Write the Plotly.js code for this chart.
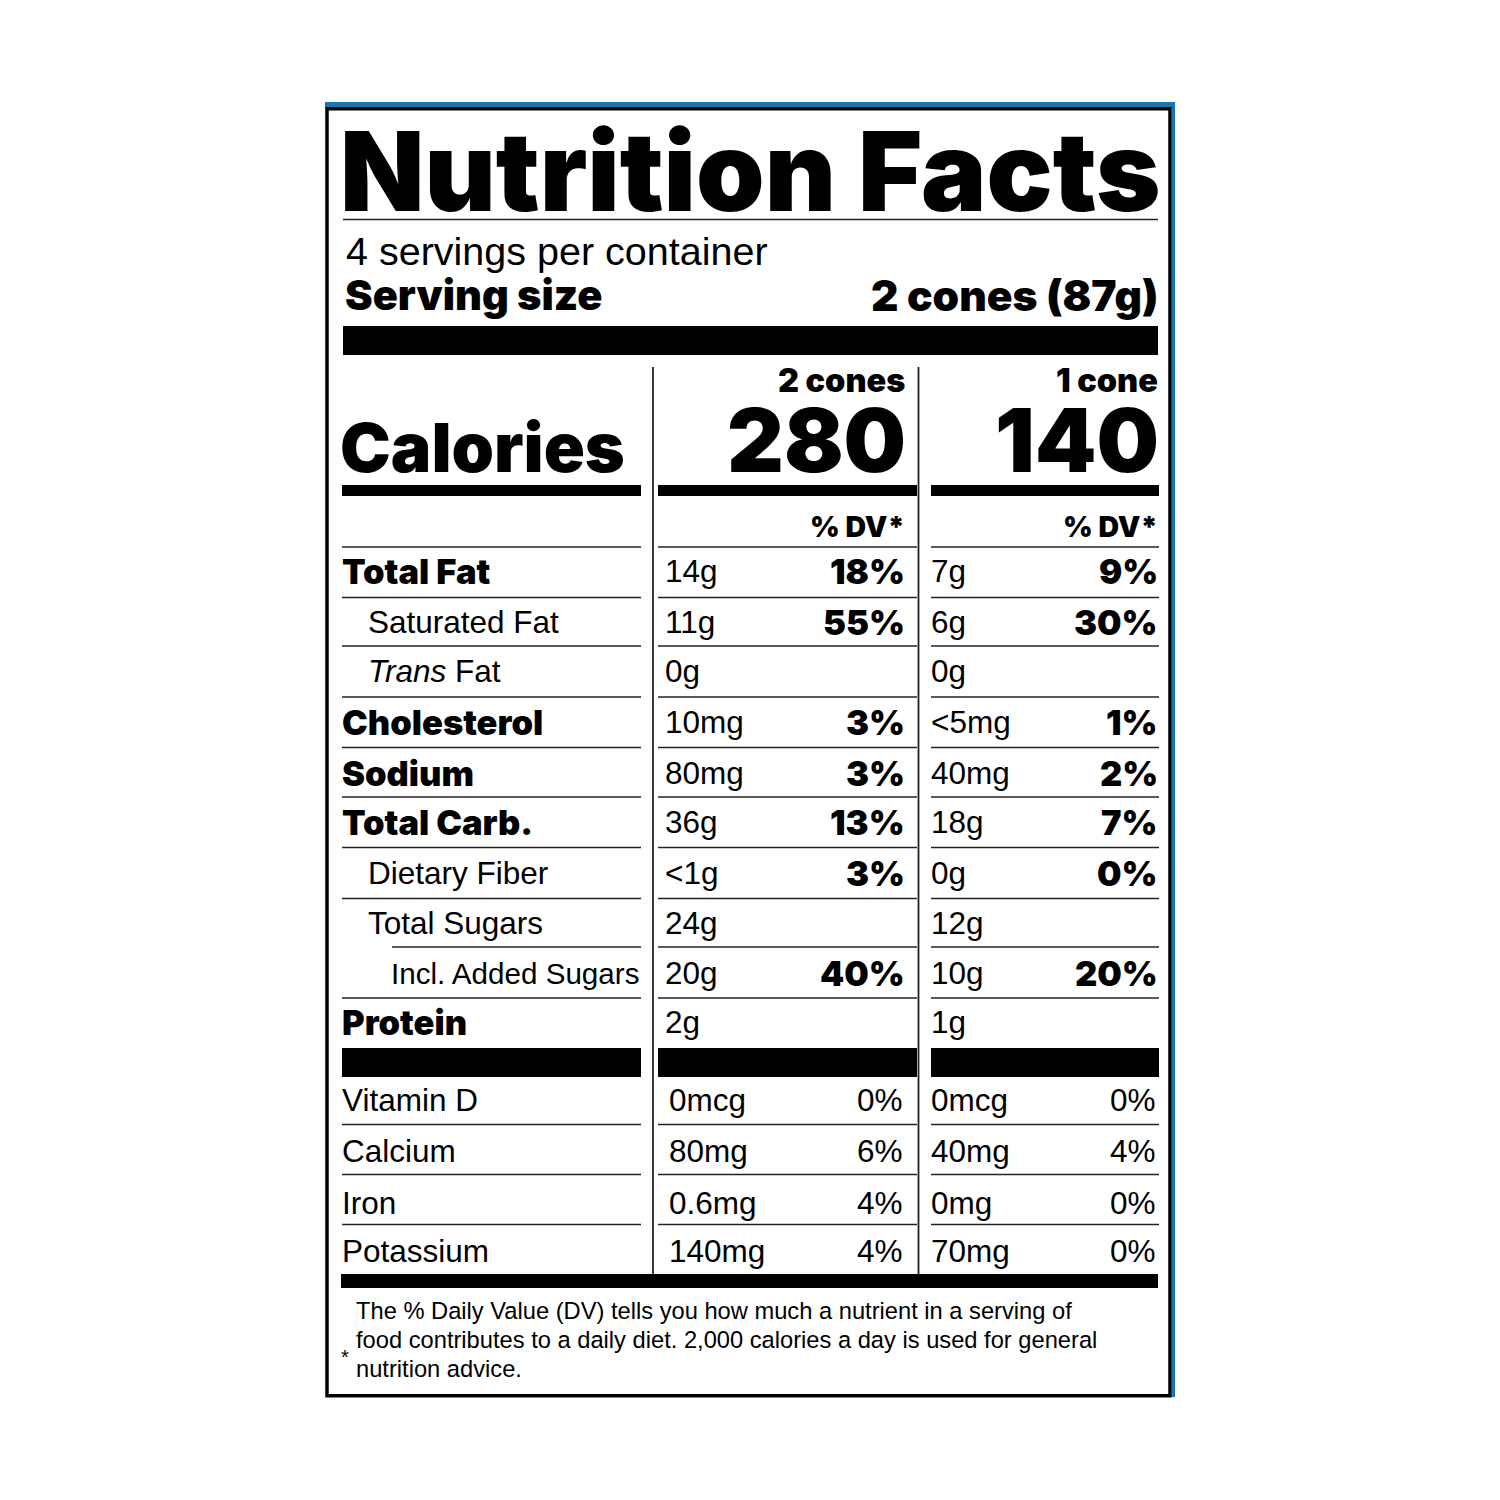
<!DOCTYPE html>
<html>
<head>
<meta charset="utf-8">
<script src="https://cdn.plot.ly/plotly-3.0.1.min.js"></script>
<style>
html,body{margin:0;padding:0;background:#ffffff;}
#chart{width:1500px;height:1500px;}
</style>
</head>
<body>
<div id="chart"></div>
<script>
// ---------------- DATA ----------------
const labelTitle = 'Nutrition Facts';
const servingsPerContainer = '4 servings per container';
const servingSizeLabel = 'Serving size';
const servingSize = '2 cones (87g)';
const columnHeads = ['2 cones', '1 cone'];
const caloriesLabel = 'Calories';
const calories = [280, 140];
const dvHeader = '% DV*';

const nutrients = ['Total Fat', 'Saturated Fat', 'Trans Fat', 'Cholesterol', 'Sodium',
                   'Total Carb.', 'Dietary Fiber', 'Total Sugars', 'Incl. Added Sugars', 'Protein'];
const amounts2 = ['14g', '11g', '0g', '10mg', '80mg', '36g', '<1g', '24g', '20g', '2g'];
const dv2      = ['18%', '55%', '', '3%', '3%', '13%', '3%', '', '40%', ''];
const amounts1 = ['7g', '6g', '0g', '<5mg', '40mg', '18g', '0g', '12g', '10g', '1g'];
const dv1      = ['9%', '30%', '', '1%', '2%', '7%', '0%', '', '20%', ''];

const vitamins    = ['Vitamin D', 'Calcium', 'Iron', 'Potassium'];
const vitAmounts2 = ['0mcg', '80mg', '0.6mg', '140mg'];
const vitDv2      = ['0%', '6%', '4%', '4%'];
const vitAmounts1 = ['0mcg', '40mg', '0mg', '70mg'];
const vitDv1      = ['0%', '4%', '0%', '0%'];

const footnoteMark = '*';
const footnote = [
  'The % Daily Value (DV) tells you how much a nutrient in a serving of',
  'food contributes to a daily diet. 2,000 calories a day is used for general',
  'nutrition advice.'
];

// ---------------- STYLE / GEOMETRY ----------------
const HEAVY = 'Inter, Lato, Roboto, sans-serif';
const REG = '"Liberation Sans", Arial, sans-serif';
const BLUE = '#1676b6';
const INK = '#000000';
const RULE = '#222222';

const boldRows = new Set(['Total Fat', 'Cholesterol', 'Sodium', 'Total Carb.', 'Protein']);
const indentLevel = {'Saturated Fat': 1, 'Trans Fat': 1, 'Dietary Fiber': 1, 'Total Sugars': 1, 'Incl. Added Sugars': 2};
const displayLabel = {'Trans Fat': '<i>Trans</i> Fat'};
const labelSize = {'Incl. Added Sugars': 29.6};

const G = {
  colL: [342, 641], colM: [658, 917], colR: [931, 1159],
  vlines: [653, 918.5], vTop: 367, vBot: 1275,
  indentX: [342, 368, 391],
  amtX: [665, 931], dvX: [905, 1158],
  vitAmtX: [669, 931], vitDvX: [903, 1156],
  nutY: [571, 622, 671, 722, 773, 822, 873, 922.5, 973, 1022],
  nutLines: [547, 597.5, 646, 697, 747.5, 797, 847.5, 898.5, 947, 998],
  subLineStart: {8: 392},
  vitY: [1100, 1151, 1203, 1251],
  vitLines: [1124.5, 1174.5, 1224.5],
  midBar: [1048, 1077],
  calBar: [485, 496],
  topBar: [326, 355],
  bottomBar: [1274, 1288],
  titleRule: 219.5,
  footY: [1311, 1339.5, 1368.5]
};

// ---------------- BUILD ----------------
const shapes = [];
const annotations = [];

function rect(x0, x1, y0, y1, color) {
  shapes.push({type: 'rect', xref: 'x', yref: 'y', x0: x0, x1: x1, y0: y0, y1: y1,
               fillcolor: color, line: {width: 0}, layer: 'above'});
}
function hline(x0, x1, y, w) {
  shapes.push({type: 'line', xref: 'x', yref: 'y', x0: x0, x1: x1, y0: y, y1: y,
               line: {color: RULE, width: w || 1.5}, layer: 'above'});
}
function vline(x, y0, y1, w) {
  shapes.push({type: 'line', xref: 'x', yref: 'y', x0: x, x1: x, y0: y0, y1: y1,
               line: {color: RULE, width: w || 1.8}, layer: 'above'});
}
function txt(x, y, text, size, family, anchor, weight) {
  annotations.push({x: x, y: y, xref: 'x', yref: 'y', text: text, showarrow: false,
    xanchor: anchor || 'left', yanchor: 'middle', borderpad: 0, borderwidth: 0,
    font: {family: family, size: size, color: INK, weight: weight || 400}});
}

// outer frame
rect(325, 1175, 102, 107.5, BLUE);
rect(1172, 1175, 102, 1397, BLUE);
shapes.push({type: 'rect', xref: 'x', yref: 'y', x0: 327, x1: 1170, y0: 108.8, y1: 1395.8,
             line: {color: INK, width: 3.5}, fillcolor: 'rgba(0,0,0,0)', layer: 'above'});

// header
txt(340, 171, labelTitle, 109.8, HEAVY, 'left', 900);
hline(343, 1158, G.titleRule, 1.3);
txt(346, 251, servingsPerContainer, 39.5, REG, 'left');
txt(345, 295, servingSizeLabel, 41.5, HEAVY, 'left', 900);
txt(1158, 295, servingSize, 42.5, HEAVY, 'right', 900);
rect(343, 1158, G.topBar[0], G.topBar[1], INK);

// column dividers
G.vlines.forEach(x => vline(x, G.vTop, G.vBot));

// calories block
txt(340, 447, caloriesLabel, 68, HEAVY, 'left', 900);
txt(G.dvX[0], 380, columnHeads[0], 32.5, HEAVY, 'right', 900);
txt(G.dvX[1], 380, columnHeads[1], 32.5, HEAVY, 'right', 900);
txt(G.dvX[0] + 1, 440, String(calories[0]), 88, HEAVY, 'right', 900);
txt(G.dvX[1] + 1, 440, String(calories[1]), 88, HEAVY, 'right', 900);
[G.colL, G.colM, G.colR].forEach(c => rect(c[0], c[1], G.calBar[0], G.calBar[1], INK));

// %DV header
txt(G.dvX[0], 526, dvHeader, 28.5, HEAVY, 'right', 900);
txt(G.dvX[1], 526, dvHeader, 28.5, HEAVY, 'right', 900);

// nutrient rule lines
G.nutLines.forEach((y, i) => {
  const startL = (G.subLineStart[i] !== undefined) ? G.subLineStart[i] : G.colL[0];
  hline(startL, G.colL[1], y);
  hline(G.colM[0], G.colM[1], y);
  hline(G.colR[0], G.colR[1], y);
});

// nutrient rows
nutrients.forEach((name, i) => {
  const y = G.nutY[i];
  const bold = boldRows.has(name);
  const lvl = indentLevel[name] || 0;
  const label = displayLabel[name] || name;
  if (bold) txt(G.indentX[lvl], y, label, 34.5, HEAVY, 'left', 900);
  else txt(G.indentX[lvl], y, label, labelSize[name] || 31.5, REG, 'left');
  txt(G.amtX[0], y, amounts2[i].replace('<', '&lt;'), 31.5, REG, 'left');
  txt(G.amtX[1], y, amounts1[i].replace('<', '&lt;'), 31.5, REG, 'left');
  if (dv2[i]) txt(G.dvX[0], y, dv2[i], 34.5, HEAVY, 'right', 900);
  if (dv1[i]) txt(G.dvX[1], y, dv1[i], 34.5, HEAVY, 'right', 900);
});

// thick bar between macros and vitamins
[G.colL, G.colM, G.colR].forEach(c => rect(c[0], c[1], G.midBar[0], G.midBar[1], INK));

// vitamin rows
G.vitLines.forEach(y => {
  hline(G.colL[0], G.colL[1], y);
  hline(G.colM[0], G.colM[1], y);
  hline(G.colR[0], G.colR[1], y);
});
vitamins.forEach((name, i) => {
  const y = G.vitY[i];
  txt(G.indentX[0], y, name, 31.5, REG, 'left');
  txt(G.vitAmtX[0], y, vitAmounts2[i], 31.5, REG, 'left');
  txt(G.vitDvX[0], y, vitDv2[i], 31.5, REG, 'right');
  txt(G.vitAmtX[1], y, vitAmounts1[i], 31.5, REG, 'left');
  txt(G.vitDvX[1], y, vitDv1[i], 31.5, REG, 'right');
});

// bottom bar
rect(341, 1158, G.bottomBar[0], G.bottomBar[1], INK);

// footnote
footnote.forEach((line, i) => txt(356, G.footY[i], line, 23.7, REG, 'left'));
txt(341, 1357, footnoteMark, 20, REG, 'left');

const layout = {
  width: 1500, height: 1500,
  margin: {l: 0, r: 0, t: 0, b: 0, pad: 0},
  paper_bgcolor: '#ffffff', plot_bgcolor: '#ffffff',
  showlegend: false,
  xaxis: {range: [0, 1500], visible: false, fixedrange: true},
  yaxis: {range: [1500, 0], visible: false, fixedrange: true},
  shapes: shapes,
  annotations: annotations
};

Plotly.newPlot('chart', [], layout, {staticPlot: true, displayModeBar: false});
</script>
</body>
</html>
